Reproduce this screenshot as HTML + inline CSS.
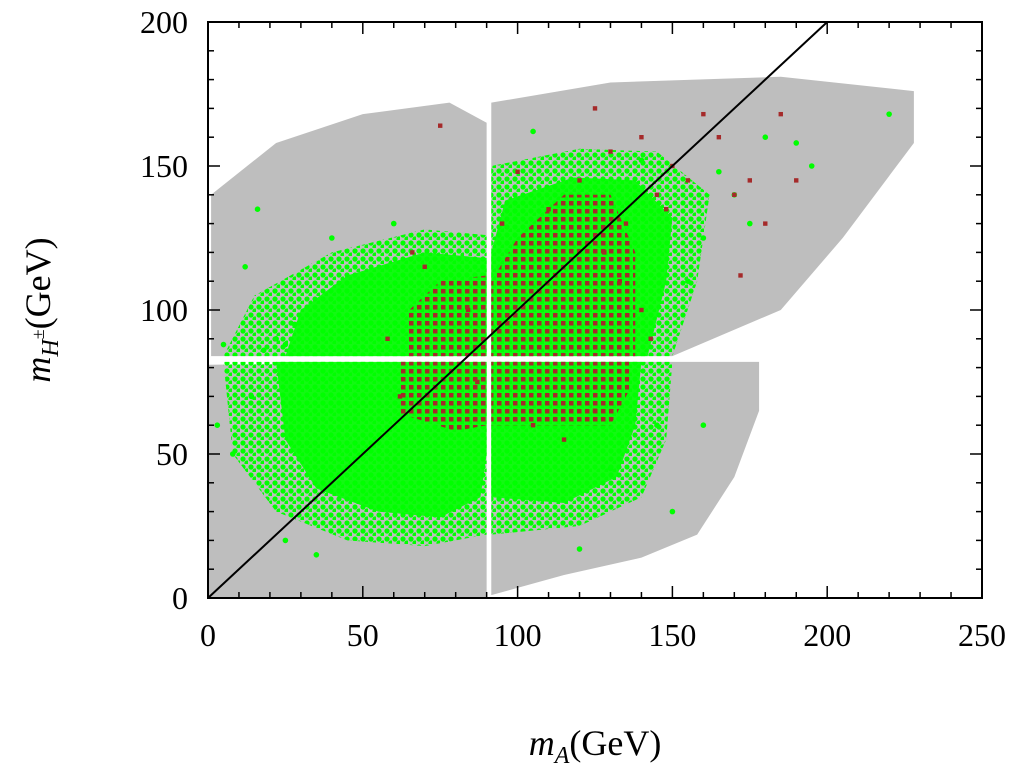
<!DOCTYPE html>
<html><head><meta charset="utf-8"><style>
html,body{margin:0;padding:0;background:#fff;}
svg text{font-family:"Liberation Serif",serif;fill:#000;}
</style></head><body>
<svg id="chart" width="1025" height="767" xmlns="http://www.w3.org/2000/svg">
<defs>
<pattern id="brownDots" width="8" height="8" patternUnits="userSpaceOnUse">
<rect x="1" y="1" width="4.5" height="4.5" fill="#a52a2a"/>
</pattern>
<pattern id="greenDots" width="8" height="8" patternUnits="userSpaceOnUse">
<circle cx="3" cy="3" r="2.6" fill="#00ff00"/><circle cx="7" cy="7" r="2.6" fill="#00ff00"/>
</pattern>
</defs>
</svg>
<script>
// ---- data (in GeV) ----
const xTicks = [0, 50, 100, 150, 200, 250];
const yTicks = [0, 50, 100, 150, 200];
const grayRegions = [
  [[0,0],[90,0],[90,82],[0,81]],
  [[1,84],[90,84],[90,165],[78,172],[50,168],[22,158],[1,140]],
  [[91.5,84],[150,84],[185,100],[205,125],[228,158],[228,176],[185,181],[130,179],[91.5,172]],
  [[91.5,1],[115,8],[140,14],[158,22],[170,42],[178,65],[178,82],[91.5,82]]
];
const greenFringe = [
  [[8,50],[22,30],[45,20],[70,18],[90,22],[90,82],[5,82]],
  [[5,84],[90,84],[90,126],[70,128],[40,120],[15,105]],
  [[91.5,22],[120,25],[140,35],[148,55],[150,82],[91.5,82]],
  [[91.5,84],[150,84],[158,110],[162,140],[145,155],[120,156],[91.5,150]]
];
const greenRegions = [
  [[25,55],[35,38],[55,30],[75,28],[88,35],[90,50],[90,82],[22,82]],
  [[25,84],[90,84],[90,118],[70,120],[45,112],[30,100]],
  [[91.5,35],[115,33],[132,42],[138,60],[140,82],[91.5,82]],
  [[91.5,84],[142,84],[148,110],[150,132],[138,145],[118,146],[96,138],[91.5,120]]
];
const brownRegions = [
  [[62,64],[80,58],[90,60],[90,82],[62,82]],
  [[64,84],[90,84],[90,112],[75,110],[65,100]],
  [[91.5,60],[130,60],[136,72],[136,82],[91.5,82]],
  [[91.5,84],[138,84],[138,120],[130,140],[115,140],[100,125],[91.5,110]]
];
const greenX = [3,8,14,18,22,25,16,5,12,28,35,150,160,165,170,180,190,195,175,155,160,220,120,105,130,25,40,60,140,145];
const greenY = [60,50,70,86,90,20,135,88,115,95,15,30,125,148,140,160,158,150,130,110,60,168,17,162,45,88,125,130,152,60];
const brownX = [75,125,140,150,155,160,165,170,175,180,185,130,145,148,172,190,135,120,110,95,100,58,62,66,70,84,87,105,115,125,128,133,140,143];
const brownY = [164,170,160,150,145,168,160,140,145,130,168,155,140,135,112,145,130,145,135,130,148,90,70,120,115,100,75,60,55,65,120,110,100,90];
// ---- axes ----
const X0=208, X1=982, Y0=598, Y1=22;
const sx = v => X0 + (v/250)*(X1-X0);
const sy = v => Y0 - (v/200)*(Y0-Y1);
const svg = document.getElementById('chart');
const NS='http://www.w3.org/2000/svg';
function mk(tag, attrs, parent){const e=document.createElementNS(NS,tag);for(const k in attrs)e.setAttribute(k,attrs[k]);(parent||svg).appendChild(e);return e;}
const pts = r => r.map(p=>sx(p[0])+','+sy(p[1])).join(' ');
const g1 = mk('g',{});


grayRegions.forEach(r=>{const p=mk('polygon',{points:pts(r),fill:'#bebebe'},g1);

});
const g2 = mk('g',{});


greenFringe.forEach(r=>{const p=mk('polygon',{points:pts(r),fill:'url(#greenDots)'},g2);

});
greenRegions.forEach(r=>{const p=mk('polygon',{points:pts(r),fill:'#00ff00','fill-opacity':0.9},g2);

});
greenX.forEach((x,i)=>{const c=mk('circle',{cx:sx(x),cy:sy(greenY[i]),r:2.8,fill:'#00ff00'},g2);

});
const g3 = mk('g',{});


brownRegions.forEach(r=>{const p=mk('polygon',{points:pts(r),fill:'url(#brownDots)'},g3);

});
brownX.forEach((x,i)=>{const c=mk('rect',{x:sx(x)-2.2,y:sy(brownY[i])-2.2,width:4.4,height:4.4,fill:'#a52a2a'},g3);

});
// diagonal line
const ln=mk('line',{x1:sx(0),y1:sy(0),x2:sx(200),y2:sy(200),stroke:'#000','stroke-width':2});


// frame
const fr=mk('rect',{x:X0,y:Y1,width:X1-X0,height:Y0-Y1,fill:'none',stroke:'#000','stroke-width':2});


// ticks
for(let v=0;v<=250;v+=10){const L=(v%50===0)?12:6;
mk('line',{x1:sx(v),y1:Y0,x2:sx(v),y2:Y0-L,stroke:'#000','stroke-width':1.5});
mk('line',{x1:sx(v),y1:Y1,x2:sx(v),y2:Y1+L,stroke:'#000','stroke-width':1.5});}
for(let v=0;v<=200;v+=10){const L=(v%50===0)?12:6;
mk('line',{x1:X0,y1:sy(v),x2:X0+L,y2:sy(v),stroke:'#000','stroke-width':1.5});
mk('line',{x1:X1,y1:sy(v),x2:X1-L,y2:sy(v),stroke:'#000','stroke-width':1.5});}
xTicks.forEach(v=>{const t=mk('text',{x:sx(v),y:Y0+48,'font-size':32,'text-anchor':'middle'});t.textContent=v;

});
yTicks.forEach(v=>{const t=mk('text',{x:X0-20,y:sy(v)+11,'font-size':32,'text-anchor':'end'});t.textContent=v;

});
</script>
<svg style="position:absolute;left:0;top:0" width="1025" height="767">
<text x="595" y="755" font-size="36" text-anchor="middle" font-family="Liberation Serif,serif"><tspan font-style="italic">m</tspan><tspan font-style="italic" font-size="24" dy="8">A</tspan><tspan dy="-8">(GeV)</tspan></text>
<text transform="translate(50,310) rotate(-90)" font-size="36" text-anchor="middle" font-family="Liberation Serif,serif"><tspan font-style="italic">m</tspan><tspan font-style="italic" font-size="24" dy="8">H</tspan><tspan font-size="18" dy="-14">±</tspan><tspan dy="6">(GeV)</tspan></text>
</svg>
</body></html>
